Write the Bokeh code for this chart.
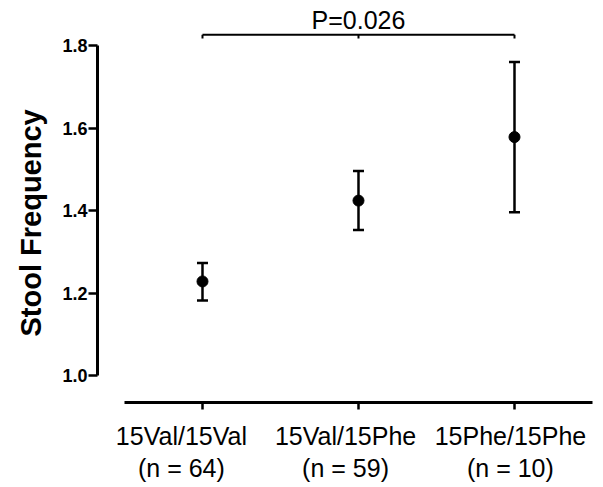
from bokeh.plotting import figure
from bokeh.models import (Range1d, LinearAxis, FixedTicker, PrintfTickFormatter,
                          ColumnDataSource, Whisker, TeeHead, Title)
from bokeh.core.properties import value
from bokeh.embed import file_html
from bokeh.resources import INLINE

# ---- data ----
categories = ["15Val/15Val\n(n = 64)", "15Val/15Phe\n(n = 59)", "15Phe/15Phe\n(n = 10)"]
means = [1.228, 1.424, 1.578]
lower = [1.182, 1.353, 1.396]
upper = [1.273, 1.496, 1.760]
y_ticks = [1.0, 1.2, 1.4, 1.6, 1.8]
y_title = "Stool Frequency"
p_label = "P=0.026"
bracket_pair = [0, 2]

# ---- style only ----
label_dx = [-21, -13, -4]   # horizontal label offsets (px) as in the original
PX_PER_UNIT = 156.0
FONT = "Liberation Sans"
W, H = 600, 485

xs = list(range(len(categories)))

p = figure(width=W, height=H, output_backend="svg", toolbar_location=None,
           x_axis_type=None, y_axis_type=None,
           x_range=Range1d(-0.673, 2.5), y_range=Range1d(0.93455, 1.9091),
           min_border_left=97, min_border_right=8, min_border_top=0,
           min_border_bottom=83)
p.outline_line_color = None
p.xgrid.visible = False
p.ygrid.visible = False
p.background_fill_color = "white"

# y axis
yax = LinearAxis(bounds=(1.0, 1.8), ticker=FixedTicker(ticks=y_ticks),
                 formatter=PrintfTickFormatter(format="%.1f"))
yax.major_label_text_font = FONT
yax.major_label_text_font_style = "bold"
yax.major_label_text_font_size = "18px"
yax.major_label_standoff = 1
yax.major_tick_in = 0
yax.major_tick_out = 9
yax.minor_tick_in = 0
yax.minor_tick_out = 0
yax.axis_line_width = 3
yax.major_tick_line_width = 2.5
yax.axis_line_color = "black"
yax.major_tick_line_color = "black"
yax.major_label_text_color = "black"
p.add_layout(yax, "left")

# y title as a side title, positioned along the bounded axis
p.add_layout(Title(text=y_title, align="left", offset=66, standoff=22,
                   vertical_align="top",
                   text_font=FONT, text_font_style="bold",
                   text_font_size="29px", text_color="black"), "left")

# x axis: line and ticks
xax = LinearAxis(bounds=(-0.5, 2.5), ticker=FixedTicker(ticks=xs))
xax.major_label_overrides = {i: "" for i in xs}
xax.major_label_text_font_size = "0px"
xax.major_label_standoff = 0
xax.major_tick_in = 0
xax.major_tick_out = 7
xax.minor_tick_in = 0
xax.minor_tick_out = 0
xax.axis_line_width = 3
xax.major_tick_line_width = 2.5
xax.axis_line_color = "black"
xax.major_tick_line_color = "black"
p.add_layout(xax, "below")

# x axis: category labels (slightly offset as in the original)
lab_pos = [round(x + dx / PX_PER_UNIT, 3) for x, dx in zip(xs, label_dx)]
xlab = LinearAxis(ticker=FixedTicker(ticks=lab_pos))
xlab.major_label_overrides = {pos: c for pos, c in zip(lab_pos, categories)}
xlab.axis_line_color = None
xlab.major_tick_line_color = None
xlab.minor_tick_line_color = None
xlab.major_tick_in = 0
xlab.major_tick_out = 0
xlab.minor_tick_in = 0
xlab.minor_tick_out = 0
xlab.major_label_text_font = FONT
xlab.major_label_text_font_size = "25px"
xlab.major_label_text_line_height = 1.15
xlab.major_label_standoff = 12
xlab.major_label_text_color = "black"
p.add_layout(xlab, "below")

# error bars
src = ColumnDataSource(dict(x=xs, mean=means, lower=lower, upper=upper))
w = Whisker(source=src, base="x", lower="lower", upper="upper",
            line_width=2.5, line_color="black",
            upper_head=TeeHead(size=11, line_width=2.5, line_color="black"),
            lower_head=TeeHead(size=11, line_width=2.5, line_color="black"))
p.add_layout(w)
p.scatter(x="x", y="mean", source=src, size=11, color="black")

# significance bracket
yb = 1.826
yt = 1.817
x0, x1 = bracket_pair
p.segment(x0=[x0], y0=[yb], x1=[x1], y1=[yb], line_width=2, color="black")
p.segment(x0=[x0, (x0 + x1) / 2, x1], y0=[yb] * 3, x1=[x0, (x0 + x1) / 2, x1],
          y1=[yt] * 3, line_width=2, color="black")
p.text(x=[(x0 + x1) / 2], y=[1.8618], text=[p_label], text_align="center",
       text_baseline="middle", text_font=value(FONT),
       text_font_size="25px", text_color="black")

open("out.html", "w").write(file_html(p, INLINE))
